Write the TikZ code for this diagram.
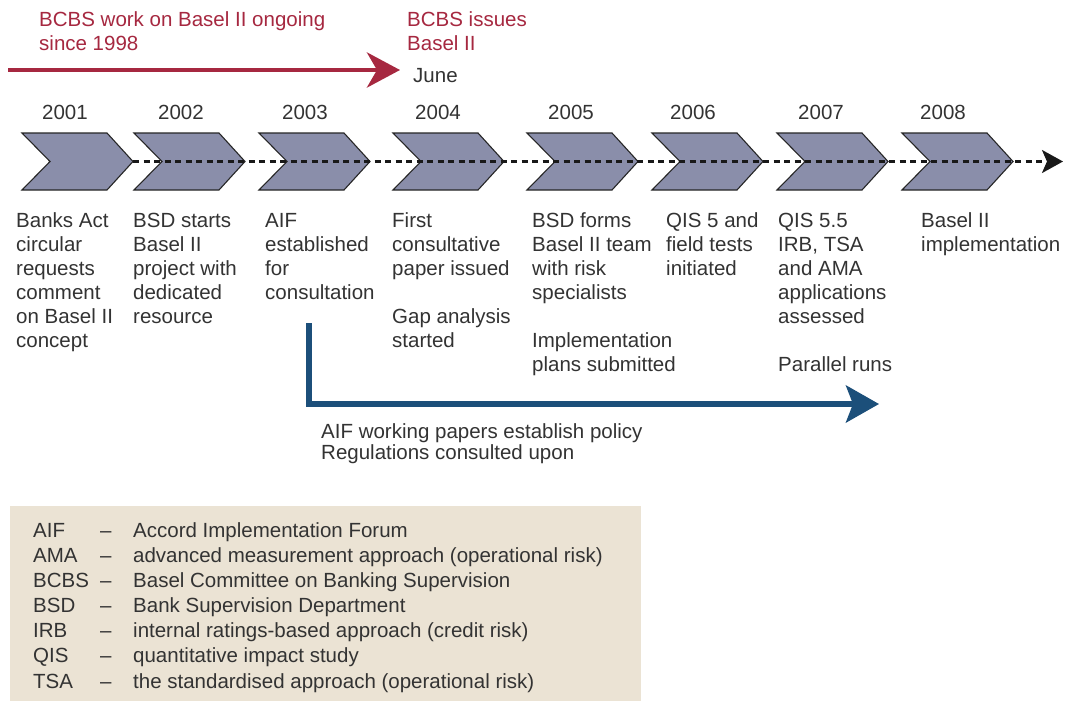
\documentclass[tikz,border=0pt]{standalone}
\usepackage{fontspec}
\setmainfont{Liberation Sans}
\usetikzlibrary{arrows.meta}
\definecolor{crim}{RGB}{166,40,64}
\definecolor{navy}{RGB}{28,79,122}
\definecolor{chevfill}{RGB}{138,142,170}
\definecolor{beige}{RGB}{235,227,212}
\definecolor{txtc}{RGB}{51,51,51}
\tikzset{
  lbl/.style={anchor=base west, inner sep=0pt, align=left, text=txtc, font=\fontsize{20.5}{24}\selectfont},
  redlbl/.style={lbl, text=crim},
  chev/.style={draw=black!85, line width=1.1pt, fill=chevfill, line join=miter},
  dashline/.style={draw=black!90, line width=2.4pt, dash pattern=on 6pt off 4.5pt, -{Stealth[length=21pt,width=23pt,inset=5pt]}},
  redarrow/.style={draw=crim, line width=4.7pt, -{Stealth[length=33pt,width=35pt,inset=10pt]}},
  bluearrow/.style={draw=navy, line width=5.5pt, line join=miter, -{Stealth[length=33pt,width=37pt,inset=7pt]}},
  legendbox/.style={fill=beige, draw=none}
}
\newcommand\mychevron[2]{%
  \draw[chev] (#2,133) -- ++(85,0) -- ++(26,28.5) -- ++(-26,28.5) -- ++(-85,0) -- ++(28,-28.5) -- cycle;
  \coordinate (#1) at (#2+111,161.5);}
\begin{document}
\begin{tikzpicture}[x=1pt,y=-1pt]
\useasboundingbox[fill=white] (0,0) rectangle (1073,701);

% red top arrow
\coordinate (rs) at (8,70);
\coordinate (re) at (400,70);
\draw[redarrow] (rs) -- (re);
% base anchor = last line baseline
\node[redlbl] (bcbs1) at (39,51) {BCBS work on Basel II ongoing\\since 1998};
\node[redlbl] (bcbs2) at (407,51) {BCBS issues\\Basel II};
\node[lbl] (june) at (413,82) {June};

% years
\node[lbl] (y1) at (42,119) {2001};
\node[lbl] (y2) at (158,119) {2002};
\node[lbl] (y3) at (282,119) {2003};
\node[lbl] (y4) at (415,119) {2004};
\node[lbl] (y5) at (548,119) {2005};
\node[lbl] (y6) at (670,119) {2006};
\node[lbl] (y7) at (798,119) {2007};
\node[lbl] (y8) at (920,119) {2008};

% chevrons
\mychevron{c1}{22}
\mychevron{c2}{134}
\mychevron{c3}{259}
\mychevron{c4}{393}
\mychevron{c5}{527}
\mychevron{c6}{652}
\mychevron{c7}{777}
\mychevron{c8}{902}
\coordinate (tend) at (1063,161.5);
\draw[dashline] (c1) -- (tend);

% descriptions (y = baseline of last line)
\node[lbl] (d1) at (16,347) {Banks Act\\circular\\requests\\comment\\on Basel II\\concept};
\node[lbl] (d2) at (133,323) {BSD starts\\Basel II\\project with\\dedicated\\resource};
\node[lbl] (d3) at (265,299) {AIF\\established\\for\\consultation};
\node[lbl] (d4) at (392,275) {First\\consultative\\paper issued};
\node[lbl] (d4b) at (392,347) {Gap analysis\\started};
\node[lbl] (d5) at (532,299) {BSD forms\\Basel II team\\with risk\\specialists};
\node[lbl] (d5b) at (532,371) {Implementation\\plans submitted};
\node[lbl] (d6) at (666,275) {QIS 5 and\\field tests\\initiated};
\node[lbl] (d7) at (778,323) {QIS 5.5\\IRB, TSA\\and AMA\\applications\\assessed};
\node[lbl] (d7b) at (778,371) {Parallel runs};
\node[lbl] (d8) at (921,251) {Basel II\\implementation};

% blue arrow
\coordinate (bs) at (309,323);
\coordinate (bc) at (309,404);
\coordinate (be) at (879,404);
\draw[bluearrow] (bs) -- (bc) -- (be);
\node[lbl, font=\fontsize{20.5}{21}\selectfont] (aifw) at (321,459) {AIF working papers establish policy\\Regulations consulted upon};

% legend
\path[legendbox] (10,506) rectangle (641,701);
\foreach \ab/\de [count=\i] in {AIF/Accord Implementation Forum,
  AMA/advanced measurement approach (operational risk),
  BCBS/Basel Committee on Banking Supervision,
  BSD/Bank Supervision Department,
  IRB/internal ratings-based approach (credit risk),
  QIS/quantitative impact study,
  TSA/the standardised approach (operational risk)}{
  \node[lbl] (ab\i) at (33,537+25.17*\i-25.17) {\ab};
  \node[lbl] (da\i) at (100,537+25.17*\i-25.17) {--};
  \node[lbl] (de\i) at (133,537+25.17*\i-25.17) {\de};
}
\end{tikzpicture}
\end{document}
